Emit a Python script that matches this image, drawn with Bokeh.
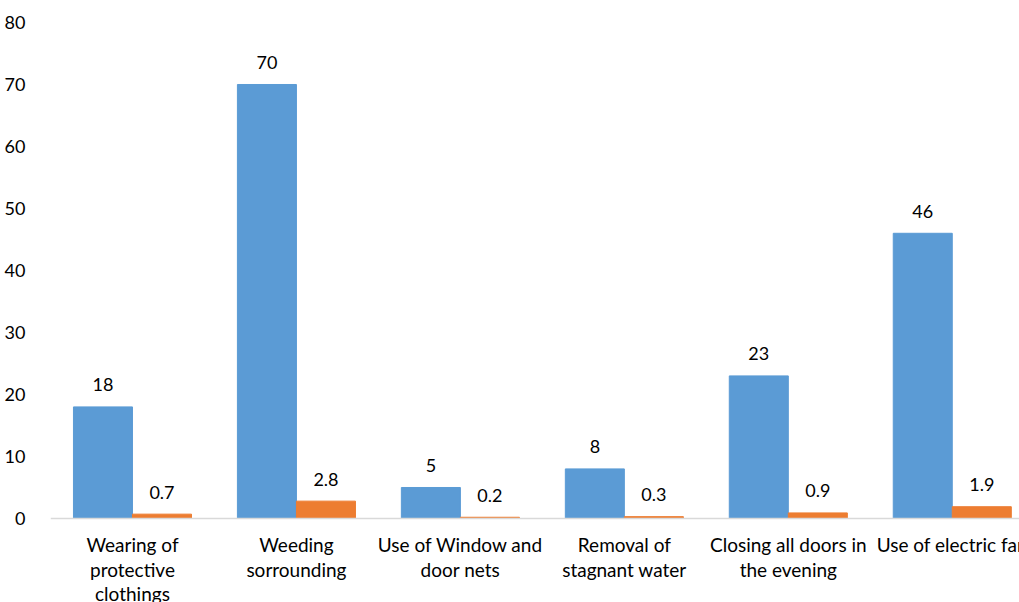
from bokeh.plotting import figure
from bokeh.models import ColumnDataSource, Range1d, FixedTicker, Span
from bokeh.core.properties import value
from bokeh.embed import file_html
from bokeh.resources import INLINE

categories = [
    "Wearing of\nprotective\nclothings",
    "Weeding\nsorrounding",
    "Use of Window and\ndoor nets",
    "Removal of\nstagnant water",
    "Closing all doors in\nthe evening",
    "Use of electric fan",
]
series_a = [18, 70, 5, 8, 23, 46]
series_b = [0.7, 2.8, 0.2, 0.3, 0.9, 1.9]
series_a_labels = ["18", "70", "5", "8", "23", "46"]
series_b_labels = ["0.7", "2.8", "0.2", "0.3", "0.9", "1.9"]
y_ticks = [0, 10, 20, 30, 40, 50, 60, 70, 80]

FONT = "Lato"
BAR_W = 0.36
centers = [i + 0.5 for i in range(len(categories))]

src_a = ColumnDataSource(dict(x=[c - BAR_W / 2 for c in centers], top=series_a, lbl=series_a_labels))
src_b = ColumnDataSource(dict(x=[c + BAR_W / 2 for c in centers], top=series_b, lbl=series_b_labels))
src_cat = ColumnDataSource(dict(x=centers, y=[0] * len(centers), lbl=categories))

# frame spans the full height below the top margin; value 0 sits 84 px above the bottom edge
p = figure(width=1019, height=602, output_backend="svg", toolbar_location=None,
           x_range=Range1d(0, 5.91), y_range=Range1d(-13.55, 80),
           x_axis_location=None,
           min_border_left=50, min_border_right=0, min_border_top=22, min_border_bottom=0)
p.outline_line_color = None
p.xgrid.visible = False
p.ygrid.visible = False
p.background_fill_color = "white"
p.border_fill_color = "white"

p.add_layout(Span(location=0, dimension="width", line_color="#D9D9D9", line_width=1.5))

p.vbar(x="x", top="top", width=BAR_W, source=src_a, color="#5B9BD5")
p.vbar(x="x", top="top", width=BAR_W, source=src_b, color="#ED7D31")

for src in (src_a, src_b):
    p.text(x="x", y="top", text="lbl", source=src, text_align="center", text_baseline="middle",
           y_offset=-22, text_font=value(FONT), text_font_size="18px", text_color="#000000")

p.text(x="x", y="y", text="lbl", source=src_cat, text_align="center", text_baseline="top",
       y_offset=15, text_font=value(FONT), text_font_size="19px", text_line_height=1.05,
       text_color="#000000")

p.yaxis.ticker = FixedTicker(ticks=y_ticks)
p.yaxis.axis_line_color = None
p.yaxis.major_tick_line_color = None
p.yaxis.minor_tick_line_color = None
p.yaxis.major_label_standoff = 19
p.yaxis.major_label_text_font = FONT
p.yaxis.major_label_text_font_size = "18px"
p.yaxis.major_label_text_color = "#000000"

open("out.html", "w").write(file_html(p, INLINE))
